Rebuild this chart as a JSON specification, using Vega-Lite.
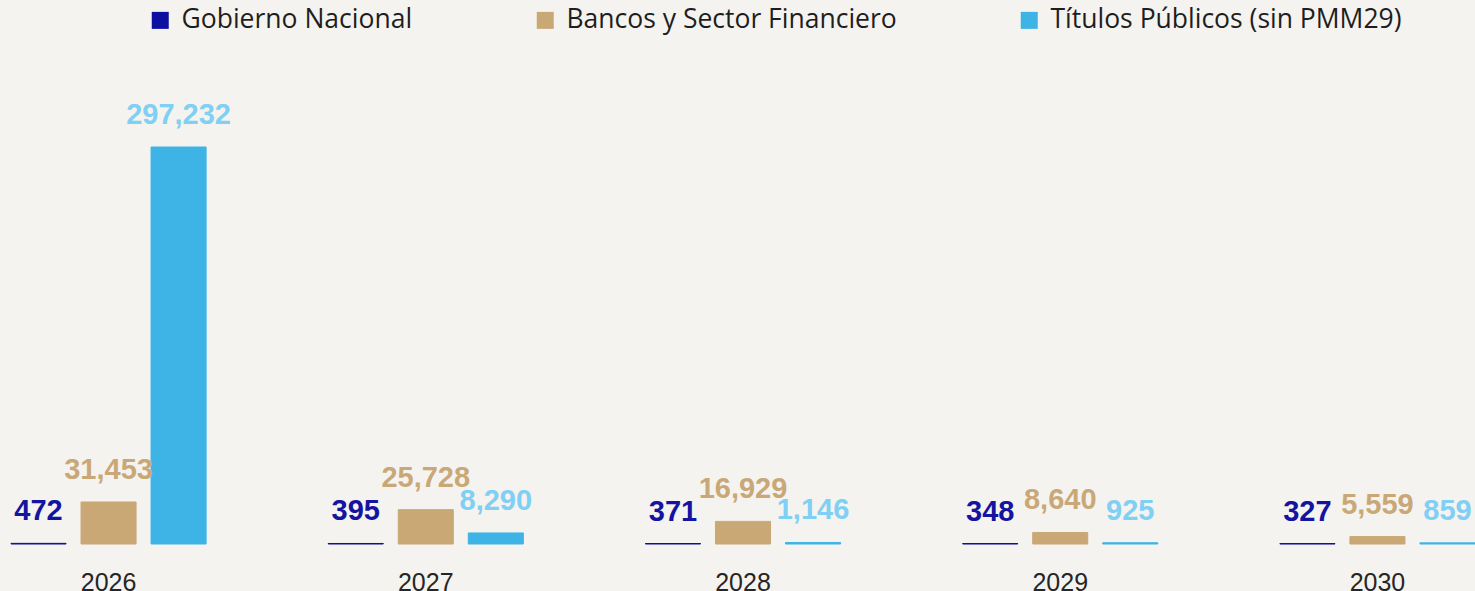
{
  "$schema": "https://vega.github.io/schema/vega-lite/v6.json",
  "width": 1464,
  "height": 484,
  "autosize": "none",
  "padding": {"left": 11, "top": 60, "right": 0, "bottom": 47},
  "background": "#f5f3ef",
  "config": {"view": {"stroke": null}},
  "data": {
    "values": [
      {"year": "2026", "serie": "Gobierno Nacional", "value": 472},
      {"year": "2026", "serie": "Bancos y Sector Financiero", "value": 31453},
      {"year": "2026", "serie": "Títulos Públicos (sin PMM29)", "value": 297232},
      {"year": "2027", "serie": "Gobierno Nacional", "value": 395},
      {"year": "2027", "serie": "Bancos y Sector Financiero", "value": 25728},
      {"year": "2027", "serie": "Títulos Públicos (sin PMM29)", "value": 8290},
      {"year": "2028", "serie": "Gobierno Nacional", "value": 371},
      {"year": "2028", "serie": "Bancos y Sector Financiero", "value": 16929},
      {"year": "2028", "serie": "Títulos Públicos (sin PMM29)", "value": 1146},
      {"year": "2029", "serie": "Gobierno Nacional", "value": 348},
      {"year": "2029", "serie": "Bancos y Sector Financiero", "value": 8640},
      {"year": "2029", "serie": "Títulos Públicos (sin PMM29)", "value": 925},
      {"year": "2030", "serie": "Gobierno Nacional", "value": 327},
      {"year": "2030", "serie": "Bancos y Sector Financiero", "value": 5559},
      {"year": "2030", "serie": "Títulos Públicos (sin PMM29)", "value": 859}
    ]
  },
  "encoding": {
    "x": {
      "field": "year", "type": "nominal",
      "scale": {"paddingInner": 0.385, "paddingOuter": 0},
      "axis": {"title": null, "domain": false, "ticks": false, "tickSize": 0, "grid": false, "labelPadding": 26, "labelAngle": 0, "labelFont": "Liberation Sans", "labelFontSize": 25, "labelColor": "#262626"}
    },
    "xOffset": {
      "field": "serie", "type": "nominal",
      "scale": {"domain": ["Gobierno Nacional", "Bancos y Sector Financiero", "Títulos Públicos (sin PMM29)"], "paddingInner": 0.214, "paddingOuter": 0}
    },
    "y": {"field": "value", "type": "quantitative", "scale": {"domain": [0, 362380], "nice": false}, "axis": null}
  },
  "layer": [
    {
      "mark": {"type": "bar", "strokeWidth": 1},
      "encoding": {
        "color": {
          "field": "serie", "type": "nominal",
          "scale": {"domain": ["Gobierno Nacional", "Bancos y Sector Financiero", "Títulos Públicos (sin PMM29)"], "range": ["#0c0fa0", "#c9a876", "#3db4e5"]},
          "legend": {
            "title": null, "orient": "none", "direction": "horizontal", "legendX": 136, "legendY": -53,
            "symbolType": "square", "symbolSize": 289, "symbolStrokeWidth": 0, "symbolOpacity": 1,
            "labelFont": "Open Sans", "labelFontSize": 26.5, "labelColor": "#1e1e1e", "labelOffset": 8,
            "labelLimit": 600, "columnPadding": 119, "padding": 0
          }
        },
        "stroke": {
          "field": "serie", "type": "nominal",
          "scale": {"domain": ["Gobierno Nacional", "Bancos y Sector Financiero", "Títulos Públicos (sin PMM29)"], "range": ["#0c0fa0", "#c9a876", "#3db4e5"]},
          "legend": null
        }
      }
    },
    {
      "mark": {"type": "text", "dy": -32, "baseline": "middle", "fontWeight": "bold", "fontSize": 29, "font": "Liberation Sans"},
      "encoding": {
        "text": {"field": "value", "type": "quantitative", "format": ",d"},
        "color": {
          "field": "serie", "type": "nominal",
          "scale": {"domain": ["Gobierno Nacional", "Bancos y Sector Financiero", "Títulos Públicos (sin PMM29)"], "range": ["#1414a0", "#c9a878", "#80cff4"]},
          "legend": null
        }
      }
    }
  ],
  "resolve": {"scale": {"color": "independent", "stroke": "independent"}}
}
